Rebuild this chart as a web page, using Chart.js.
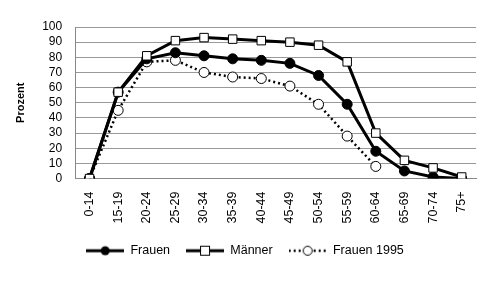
<!DOCTYPE html>
<html>
<head>
<meta charset="utf-8">
<script src="https://cdn.jsdelivr.net/npm/chart.js@4"></script>
<style>
  body { margin: 0; background: #fff; }
</style>
</head>
<body>
<canvas id="erwerbChart" width="495" height="282"></canvas>
<script>
// Altersgruppen und Erwerbsquoten (Prozent)
const altersgruppen = ['0-14', '15-19', '20-24', '25-29', '30-34', '35-39', '40-44',
  '45-49', '50-54', '55-59', '60-64', '65-69', '70-74', '75+'];
const frauen = [0, 57, 79, 83, 81, 79, 78, 76, 68, 49, 18, 5, 1, 0];
const maenner = [0, 57, 81, 91, 93, 92, 91, 90, 88, 77, 30, 12, 7, 1];
const frauen1995 = [0, 45, 77, 78, 70, 67, 66, 61, 49, 28, 8, null, null, null];

const schrift = "'Liberation Sans', Arial, sans-serif";

// kleine Legendensymbole: Linie + Marker
function legendeSymbol(stil, strich) {
  const c = document.createElement('canvas');
  c.width = 38; c.height = 12;
  const g = c.getContext('2d');
  g.strokeStyle = '#000';
  g.lineWidth = strich ? 2.5 : 3;
  if (strich) g.setLineDash([2, 3]);
  g.beginPath(); g.moveTo(0, 6); g.lineTo(38, 6); g.stroke();
  g.setLineDash([]);
  g.lineWidth = 1;
  if (stil === 'kreis') {
    g.fillStyle = '#000';
    g.beginPath(); g.arc(19, 6, 4.5, 0, Math.PI * 2); g.fill();
  } else if (stil === 'quadrat') {
    g.fillStyle = '#fff';
    g.fillRect(14.5, 1.5, 9, 9); g.strokeRect(14.5, 1.5, 9, 9);
  } else {
    g.fillStyle = '#fff';
    g.beginPath(); g.arc(19, 6, 4.5, 0, Math.PI * 2); g.fill(); g.stroke();
  }
  return c;
}
const symbole = [legendeSymbol('kreis'), legendeSymbol('quadrat'), legendeSymbol('offen', true)];

const ctx = document.getElementById('erwerbChart');
new Chart(ctx, {
  type: 'line',
  data: {
    labels: altersgruppen,
    datasets: [{
      label: 'Frauen',
      data: frauen,
      borderColor: '#000',
      backgroundColor: '#000',
      borderWidth: 3,
      pointStyle: 'circle',
      pointRadius: 5,
      pointBorderWidth: 1,
      pointBackgroundColor: '#000',
      order: 2
    }, {
      label: 'Männer',
      data: maenner,
      borderColor: '#000',
      backgroundColor: '#fff',
      borderWidth: 3,
      pointStyle: 'rect',
      pointRadius: 6,
      pointBorderWidth: 1,
      pointBackgroundColor: '#fff',
      order: 1
    }, {
      label: 'Frauen 1995',
      data: frauen1995,
      borderColor: '#000',
      backgroundColor: '#fff',
      borderWidth: 2.5,
      borderDash: [2, 3],
      pointStyle: 'circle',
      pointRadius: 5,
      pointBorderWidth: 1,
      pointBackgroundColor: '#fff',
      spanGaps: false,
      order: 3
    }]
  },
  options: {
    responsive: false,
    animation: false,
    layout: { padding: { left: 14, right: 19, top: 27, bottom: 15 } },
    plugins: {
      tooltip: { enabled: false },
      legend: {
        position: 'bottom',
        labels: {
          usePointStyle: true,
          pointStyleWidth: 38,
          padding: 16,
          color: '#000',
          font: { family: schrift, size: 12.5 },
          generateLabels(chart) {
            return chart.data.datasets.map((ds, i) => ({
              text: ds.label,
              pointStyle: symbole[i],
              datasetIndex: i,
              fontColor: '#000',
              lineWidth: 0
            }));
          }
        }
      }
    },
    scales: {
      x: {
        offset: true,
        grid: { display: false },
        border: { color: '#888' },
        ticks: {
          color: '#000',
          maxRotation: 90,
          minRotation: 90,
          padding: 5,
          font: { family: schrift, size: 12.5 }
        }
      },
      y: {
        min: 0,
        max: 100,
        grid: { color: '#999', drawTicks: false },
        border: { color: '#888' },
        ticks: {
          stepSize: 10,
          autoSkip: false,
          padding: 13,
          color: '#000',
          font: { family: schrift, size: 12 }
        },
        title: {
          display: true,
          text: 'Prozent',
          color: '#000',
          padding: { top: 0, bottom: 2 },
          font: { family: schrift, size: 11, weight: 'bold' }
        }
      }
    }
  }
});
</script>
</body>
</html>
